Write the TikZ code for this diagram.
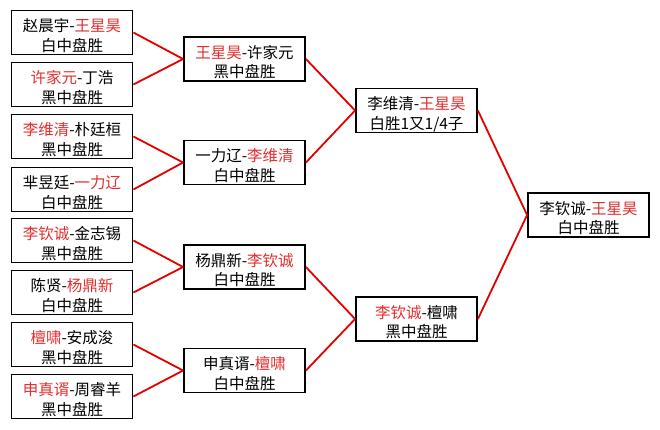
\documentclass[tikz,border=0pt]{standalone}
\usepackage{fontspec}
\setmainfont{Noto Sans CJK SC}
\usepackage{tikz}
\usetikzlibrary{positioning}
\definecolor{winred}{RGB}{226,45,45}
\definecolor{linkred}{RGB}{226,0,0}
\newcommand{\win}[1]{\textcolor{winred}{#1}}
\tikzset{res/.style={draw, line width=1.8pt, minimum width=121pt, minimum height=44pt, inner sep=0pt, align=center, font=\fontsize{15.5pt}{19.5pt}\selectfont, text height=39pt, text depth=2pt}}
\tikzset{link/.style={linkred, line width=1.8pt}}

\begin{document}
\begin{tikzpicture}[x=1pt,y=-1pt]
\useasboundingbox (0,0) rectangle (660,429);
% round 1
\node[res] (a1) at (72,32.5) {赵晨宇-\win{王星昊}\\白中盘胜};
\node[res] (a2) at (72,84.5) {\win{许家元}-丁浩\\黑中盘胜};
\node[res] (a3) at (72,136.5) {\win{李维清}-朴廷桓\\黑中盘胜};
\node[res] (a4) at (72,189.5) {芈昱廷-\win{一力辽}\\白中盘胜};
\node[res] (a5) at (72,240.5) {\win{李钦诚}-金志锡\\黑中盘胜};
\node[res] (a6) at (72,292.5) {陈贤-\win{杨鼎新}\\白中盘胜};
\node[res] (a7) at (72,344.5) {\win{檀啸}-安成浚\\黑中盘胜};
\node[res] (a8) at (72,396.5) {\win{申真谞}-周睿羊\\黑中盘胜};
% round 2
\node[res] (b1) at (244.5,59) {\win{王星昊}-许家元\\黑中盘胜};
\node[res] (b2) at (244.5,162.5) {一力辽-\win{李维清}\\白中盘胜};
\node[res] (b3) at (244.5,267) {杨鼎新-\win{李钦诚}\\白中盘胜};
\node[res] (b4) at (244.5,370.5) {申真谞-\win{檀啸}\\白中盘胜};
% semifinal
\node[res] (c1) at (416.5,110.5) {李维清-\win{王星昊}\\白胜1又1/4子};
\node[res] (c2) at (416.5,319) {\win{李钦诚}-檀啸\\黑中盘胜};
% final
\node[res] (d) at (588.5,215) {李钦诚-\win{王星昊}\\白中盘胜};
\draw[link] (a1.east) -- (b1.west);
\draw[link] (a2.east) -- (b1.west);
\draw[link] (a3.east) -- (b2.west);
\draw[link] (a4.east) -- (b2.west);
\draw[link] (a5.east) -- (b3.west);
\draw[link] (a6.east) -- (b3.west);
\draw[link] (a7.east) -- (b4.west);
\draw[link] (a8.east) -- (b4.west);
\draw[link] (b1.east) -- (c1.west);
\draw[link] (b2.east) -- (c1.west);
\draw[link] (b3.east) -- (c2.west);
\draw[link] (b4.east) -- (c2.west);
\draw[link] (c1.east) -- (d.west);
\draw[link] (c2.east) -- (d.west);
\end{tikzpicture}
\end{document}
